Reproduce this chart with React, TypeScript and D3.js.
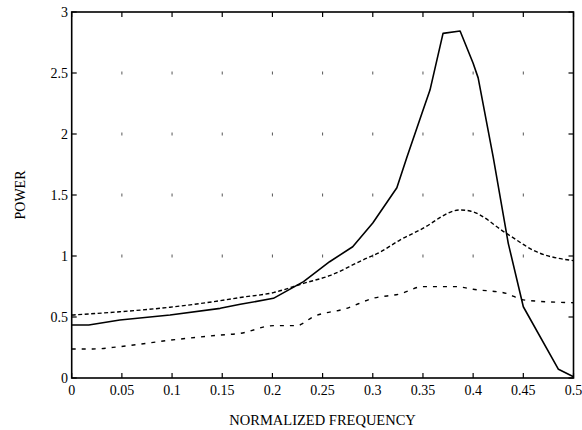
import * as d3 from 'd3';

const xTicks = [0, 0.05, 0.1, 0.15, 0.2, 0.25, 0.3, 0.35, 0.4, 0.45, 0.5];
const yTicks = [0, 0.5, 1, 1.5, 2, 2.5, 3];
const xTickLabels = ['0', '0.05', '0.1', '0.15', '0.2', '0.25', '0.3', '0.35', '0.4', '0.45', '0.5'];
const yTickLabels = ['0', '0.5', '1', '1.5', '2', '2.5', '3'];

// solid curve
const solidX = [0, 0.017, 0.048, 0.098, 0.148, 0.168, 0.201, 0.231, 0.257, 0.28, 0.3, 0.324, 0.334, 0.349, 0.357, 0.37, 0.387, 0.4, 0.405, 0.42, 0.435, 0.45, 0.485, 0.5];
const solidY = [0.434, 0.434, 0.475, 0.516, 0.571, 0.604, 0.653, 0.79, 0.953, 1.076, 1.27, 1.56, 1.81, 2.17, 2.36, 2.825, 2.844, 2.58, 2.46, 1.81, 1.104, 0.584, 0.071, 0.01];

// upper dashed curve
const upperX = [0, 0.048, 0.098, 0.148, 0.168, 0.201, 0.231, 0.257, 0.29, 0.307, 0.327, 0.347, 0.387, 0.397, 0.433, 0.463, 0.5];
const upperY = [0.516, 0.543, 0.58, 0.634, 0.66, 0.7, 0.776, 0.839, 0.967, 1.03, 1.131, 1.213, 1.377, 1.369, 1.186, 1.035, 0.962];

// lower dashed curve
const lowerX = [0, 0.021, 0.048, 0.098, 0.148, 0.168, 0.201, 0.224, 0.241, 0.274, 0.3, 0.327, 0.35, 0.383, 0.4, 0.433, 0.45, 0.5];
const lowerY = [0.238, 0.238, 0.257, 0.31, 0.352, 0.366, 0.429, 0.429, 0.503, 0.571, 0.653, 0.689, 0.749, 0.749, 0.727, 0.694, 0.64, 0.617];

// faint grid remnants
const gridX = [0.05, 0.1, 0.15, 0.2, 0.25, 0.3, 0.35, 0.4, 0.45];
const gridY = [1, 1.5, 2, 2.5];

const W = 582, H = 430;
const left = 71.7, right = 573.5, top = 12, bottom = 378;
const font = '"Liberation Serif", "Times New Roman", serif';

const App = () => {
  const x = d3.scaleLinear().domain([0, 0.5]).range([left, right]);
  const y = d3.scaleLinear().domain([0, 3]).range([bottom, top]);

  const toPts = (xs: number[], ys: number[]) => xs.map((v, i) => [v, ys[i]] as [number, number]);
  const line = d3.line<[number, number]>().x(d => x(d[0])).y(d => y(d[1]));
  const smooth = d3.line<[number, number]>().x(d => x(d[0])).y(d => y(d[1])).curve(d3.curveMonotoneX);
  const tl = 5;

  return (
    <svg width={W} height={H} style={{ position: 'absolute', left: 0, top: 0, background: '#fff' }}>
      {gridX.map(gx => gridY.map(gy => (
        <line key={gx + '-' + gy} x1={x(gx)} x2={x(gx)} y1={y(gy) - 1.5} y2={y(gy) + 1.5} stroke="#555" strokeWidth={1} />
      )))}

      <path d={smooth(toPts(upperX, upperY)) || ''} fill="none" stroke="#000" strokeWidth={1.4} strokeDasharray="4,2.5" />
      <path d={smooth(toPts(lowerX, lowerY)) || ''} fill="none" stroke="#000" strokeWidth={1.4} strokeDasharray="4,6" />
      <path d={line(toPts(solidX, solidY)) || ''} fill="none" stroke="#000" strokeWidth={1.6} strokeLinejoin="round" />

      <rect x={left} y={top} width={right - left} height={bottom - top} fill="none" stroke="#000" strokeWidth={1.6} />

      {xTicks.map((t, i) => (
        <g key={'x' + i}>
          <line x1={x(t)} x2={x(t)} y1={bottom} y2={bottom - tl} stroke="#000" strokeWidth={1.2} />
          <line x1={x(t)} x2={x(t)} y1={top} y2={top + tl} stroke="#000" strokeWidth={1.2} />
          <text x={x(t)} y={395} textAnchor="middle" fontFamily={font} fontSize={14}>{xTickLabels[i]}</text>
        </g>
      ))}
      {yTicks.map((t, i) => (
        <g key={'y' + i}>
          <line x1={left} x2={left + tl} y1={y(t)} y2={y(t)} stroke="#000" strokeWidth={1.2} />
          <line x1={right} x2={right - tl} y1={y(t)} y2={y(t)} stroke="#000" strokeWidth={1.2} />
          <text x={68} y={y(t) + 5} textAnchor="end" fontFamily={font} fontSize={14}>{yTickLabels[i]}</text>
        </g>
      ))}

      <text x={(left + right) / 2} y={425} textAnchor="middle" fontFamily={font} fontSize={14.5}>NORMALIZED FREQUENCY</text>
      <text transform={`translate(25,${(top + bottom) / 2}) rotate(-90)`} textAnchor="middle" fontFamily={font} fontSize={14}>POWER</text>
    </svg>
  );
};

export default App;
